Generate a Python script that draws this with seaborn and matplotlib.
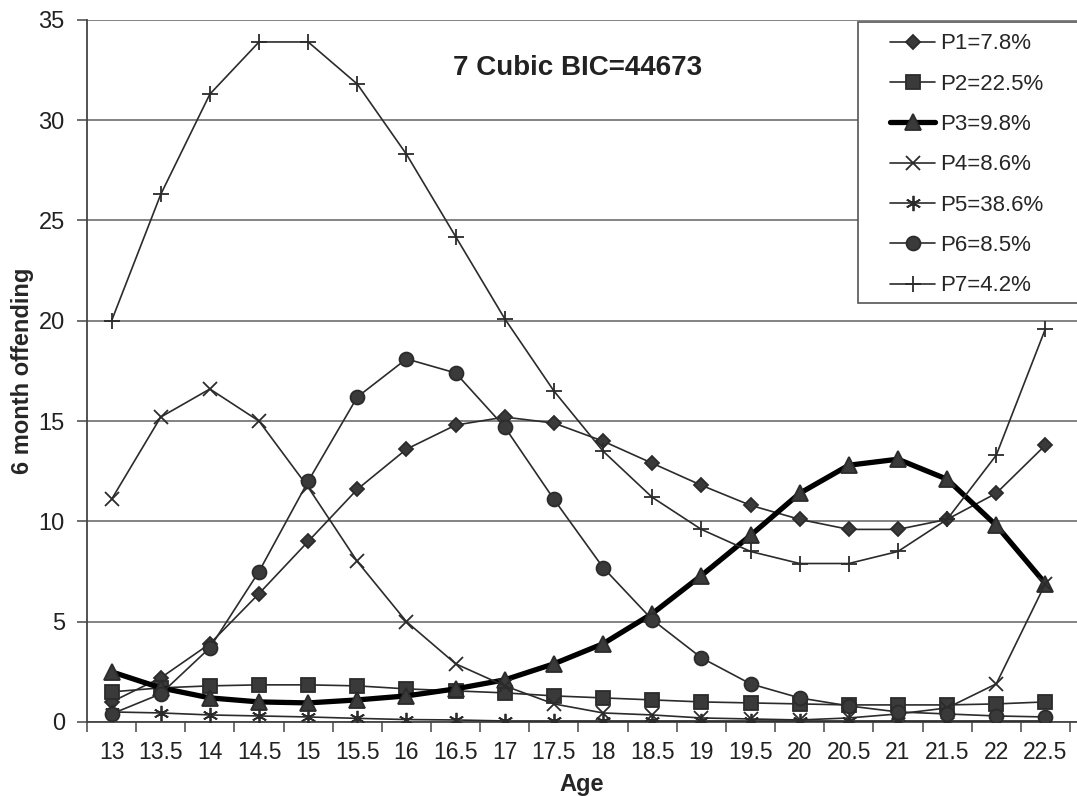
import matplotlib.pyplot as plt
import seaborn as sns
from matplotlib.lines import Line2D
from matplotlib.patches import Rectangle

ages = [13, 13.5, 14, 14.5, 15, 15.5, 16, 16.5, 17, 17.5,
        18, 18.5, 19, 19.5, 20, 20.5, 21, 21.5, 22, 22.5]
age_labels = ['13', '13.5', '14', '14.5', '15', '15.5', '16', '16.5', '17', '17.5',
              '18', '18.5', '19', '19.5', '20', '20.5', '21', '21.5', '22', '22.5']

p1 = [1.0, 2.2, 3.9, 6.4, 9.0, 11.6, 13.6, 14.8, 15.2, 14.9,
      14.0, 12.9, 11.8, 10.8, 10.1, 9.6, 9.6, 10.1, 11.4, 13.8]
p2 = [1.5, 1.7, 1.8, 1.85, 1.85, 1.8, 1.65, 1.55, 1.45, 1.3,
      1.2, 1.1, 1.0, 0.95, 0.9, 0.85, 0.85, 0.85, 0.9, 1.0]
p3 = [2.5, 1.7, 1.2, 1.0, 0.95, 1.1, 1.3, 1.65, 2.1, 2.9,
      3.9, 5.4, 7.3, 9.3, 11.4, 12.8, 13.1, 12.1, 9.8, 6.9]
p4 = [11.1, 15.2, 16.6, 15.0, 11.7, 8.0, 5.0, 2.9, 1.8, 0.9,
      0.45, 0.35, 0.2, 0.15, 0.1, 0.2, 0.4, 0.7, 1.9, 6.9]
p5 = [0.5, 0.45, 0.35, 0.3, 0.25, 0.18, 0.12, 0.1, 0.05, 0.05,
      0.05, 0.05, 0.05, 0.05, 0.05, 0.05, 0.05, 0.05, 0.05, 0.05]
p6 = [0.4, 1.4, 3.7, 7.5, 12.0, 16.2, 18.1, 17.4, 14.7, 11.1,
      7.7, 5.1, 3.2, 1.9, 1.2, 0.8, 0.5, 0.4, 0.3, 0.25]
p7 = [20.0, 26.3, 31.3, 33.9, 33.9, 31.8, 28.3, 24.2, 20.1, 16.5,
      13.5, 11.2, 9.6, 8.5, 7.9, 7.9, 8.5, 10.1, 13.3, 19.6]

series_names = ['P1=7.8%', 'P2=22.5%', 'P3=9.8%', 'P4=8.6%',
                'P5=38.6%', 'P6=8.5%', 'P7=4.2%']
series_values = [p1, p2, p3, p4, p5, p6, p7]

# marker, marker size, line width, line colour
styles = [
    ('D', 7, 1.2, '#2b2b2b'),
    ('s', 10, 1.2, '#2b2b2b'),
    ('^', 11, 3.8, '#000000'),
    ('x', 10, 1.2, '#2b2b2b'),
    ((6, 2, 0), 11, 1.2, '#2b2b2b'),
    ('o', 10, 1.2, '#2b2b2b'),
    ('+', 11, 1.2, '#2b2b2b'),
]

sns.set_theme(style='white')
plt.rcParams['font.family'] = ['Liberation Sans', 'DejaVu Sans']

fig = plt.figure(figsize=(10.77, 7.96), dpi=100)
# plot area runs past the right edge a little, like the cropped original
ax = fig.add_axes([87 / 1077, 0.093, 990 / 1077, 0.882])

handles = []
for name, vals, (mk, ms, lw, col) in zip(series_names, series_values, styles):
    sns.lineplot(x=ages, y=vals, ax=ax, color=col, linewidth=lw,
                 marker=mk, markersize=ms, markerfacecolor='#3a3a3a',
                 markeredgecolor='#2b2b2b', markeredgewidth=1.3, zorder=3)
    handles.append(Line2D([], [], color=col, linewidth=lw, marker=mk,
                          markersize=ms, markerfacecolor='#3a3a3a',
                          markeredgecolor='#2b2b2b', markeredgewidth=1.3))

ax.set_xlim(12.75, 22.75 + 7 / 98)
ax.set_ylim(0, 35)
ax.set_yticks(range(0, 36, 5))
ax.yaxis.grid(True, color='#7a7a7a', linewidth=1.3, zorder=0)
ax.set_axisbelow(True)

ax.set_xticks(ages)
ax.set_xticklabels(age_labels)
ax.set_xticks([a - 0.25 for a in ages] + [22.75], minor=True)
ax.tick_params(axis='x', which='major', length=0, pad=14, labelsize=16.5, colors='#222222')
ax.tick_params(axis='x', which='minor', length=7, width=1.2, color='#555555', direction='out', bottom=True)
ax.tick_params(axis='y', which='major', length=7, width=1.2, color='#555555', direction='out',
               left=True, labelsize=17, colors='#222222', pad=9)

for s in ['top', 'right']:
    ax.spines[s].set_visible(False)
for s in ['left', 'bottom']:
    ax.spines[s].set_color('#444444')
    ax.spines[s].set_linewidth(1.3)

ax.set_xlabel('Age', fontsize=17, fontweight='bold', labelpad=6)
ax.set_ylabel('6 month offending', fontsize=17, fontweight='bold', labelpad=3)

fig.text(578 / 1077, 1 - 68 / 796, '7 Cubic BIC=44673', fontsize=20,
         fontweight='bold', ha='center', va='center', color='#222222')

# legend box
fig.patches.append(Rectangle((858 / 1077, 1 - 303 / 796), 0.25, (303 - 22) / 796,
                             transform=fig.transFigure, facecolor='white',
                             edgecolor='#555555', linewidth=1.2, zorder=4))
fig.legend(handles, series_names, loc='upper left',
           bbox_to_anchor=(886 / 1077, 1 - 29 / 796), bbox_transform=fig.transFigure,
           frameon=False, fontsize=16, handlelength=2.0, handletextpad=0.25,
           labelspacing=0.87, borderaxespad=0, borderpad=0.2)

fig.savefig('out.png', dpi=100)
